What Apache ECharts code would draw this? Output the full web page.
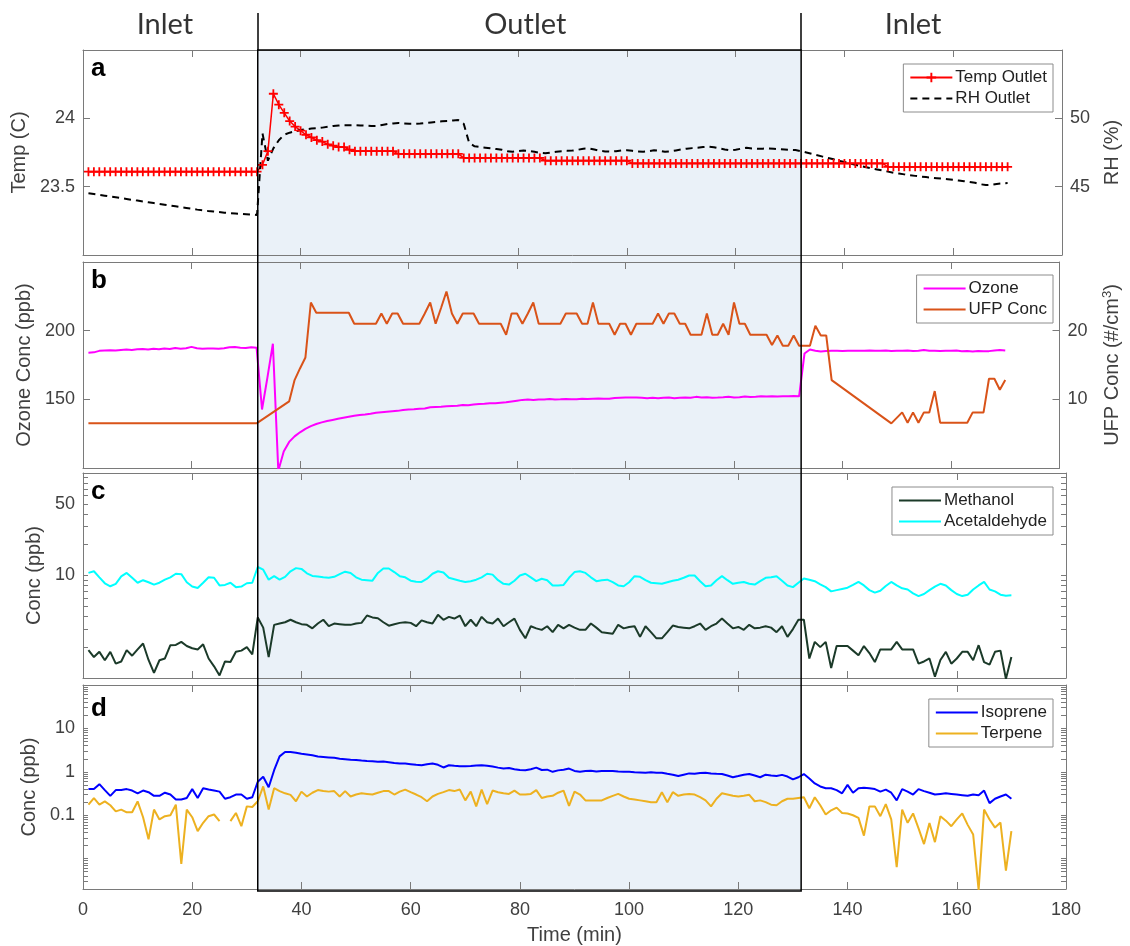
<!DOCTYPE html>
<html>
<head>
<meta charset="utf-8">
<title>Inlet / Outlet time series</title>
<script src="https://cdn.jsdelivr.net/npm/echarts@6/dist/echarts.min.js"></script>
<style>
  html, body { margin: 0; padding: 0; background: #fff; }
  #chart { width: 1130px; height: 946px; }
</style>
</head>
<body>
<div id="chart"></div>
<script>
// sample times (min), one reading per minute
const minutes = Array.from({ length: 170 }, (_, i) => i + 1)

// section labels above the chart and where the outlet period starts / ends
const sections = ['Inlet', 'Outlet', 'Inlet']
const sectionCenters = [15, 81, 152]
const outletStart = 32
const outletEnd = 131.5

// panel a
const tempOutlet = [
  23.61, 23.61, 23.61, 23.61, 23.61, 23.61, 23.61, 23.61, 23.61, 23.61,
  23.61, 23.61, 23.61, 23.61, 23.61, 23.61, 23.61, 23.61, 23.61, 23.61,
  23.61, 23.61, 23.61, 23.61, 23.61, 23.61, 23.61, 23.61, 23.61, 23.61,
  23.61, 23.61, 23.66, 23.76, 24.18, 24.10, 24.04, 23.98, 23.94, 23.91,
  23.88, 23.86, 23.84, 23.83, 23.81, 23.80, 23.79, 23.79, 23.77, 23.76,
  23.76, 23.76, 23.76, 23.76, 23.76, 23.76, 23.76, 23.74, 23.74, 23.74,
  23.74, 23.74, 23.74, 23.74, 23.74, 23.74, 23.74, 23.74, 23.74, 23.71,
  23.71, 23.71, 23.71, 23.71, 23.71, 23.71, 23.71, 23.71, 23.71, 23.71,
  23.71, 23.71, 23.71, 23.71, 23.69, 23.69, 23.69, 23.69, 23.69, 23.69,
  23.69, 23.69, 23.69, 23.69, 23.69, 23.69, 23.69, 23.69, 23.69, 23.69,
  23.67, 23.67, 23.67, 23.67, 23.67, 23.67, 23.67, 23.67, 23.67, 23.67,
  23.67, 23.67, 23.67, 23.67, 23.67, 23.67, 23.67, 23.67, 23.67, 23.67,
  23.67, 23.67, 23.67, 23.67, 23.67, 23.67, 23.67, 23.67, 23.67, 23.67,
  23.67, 23.67, 23.67, 23.67, 23.67, 23.67, 23.67, 23.67, 23.67, 23.67,
  23.67, 23.67, 23.67, 23.67, 23.67, 23.67, 23.67, 23.645, 23.645, 23.645,
  23.645, 23.645, 23.645, 23.645, 23.645, 23.645, 23.645, 23.645, 23.645, 23.645,
  23.645, 23.645, 23.645, 23.645, 23.645, 23.645, 23.645, 23.645, 23.645, 23.645
]
const rhOutlet = [
  44.52, 44.46, 44.40, 44.34, 44.28, 44.22, 44.16, 44.10, 44.04, 43.98,
  43.92, 43.86, 43.80, 43.74, 43.68, 43.62, 43.56, 43.50, 43.44, 43.38,
  43.32, 43.27, 43.22, 43.18, 43.14, 43.10, 43.07, 43.04, 43.01, 42.98,
  42.95, 42.93, 48.9, 46.9, 47.8, 48.4, 48.8, 48.95, 49.05, 49.14,
  49.2, 49.25, 49.27, 49.32, 49.38, 49.44, 49.47, 49.5, 49.5, 49.5,
  49.48, 49.46, 49.44, 49.45, 49.52, 49.58, 49.63, 49.66, 49.62, 49.6,
  49.6, 49.62, 49.66, 49.7, 49.74, 49.78, 49.8, 49.85, 49.87, 49.6,
  48.2, 47.95, 47.9, 47.85, 47.8, 47.75, 47.7, 47.6, 47.56, 47.6,
  47.65, 47.62, 47.55, 47.48, 47.44, 47.5, 47.56, 47.6, 47.62, 47.64,
  47.7, 47.78, 47.8, 47.72, 47.62, 47.58, 47.56, 47.6, 47.64, 47.66,
  47.62, 47.58, 47.56, 47.6, 47.66, 47.62, 47.55, 47.58, 47.65, 47.72,
  47.78, 47.82, 47.85, 47.9, 47.92, 47.88, 47.8, 47.72, 47.66, 47.7,
  47.78, 47.84, 47.8, 47.78, 47.78, 47.8, 47.78, 47.74, 47.72, 47.7,
  47.68, 47.6, 47.5, 47.4, 47.3, 47.2, 47.1, 47.0, 46.9, 46.8,
  46.7, 46.6, 46.5, 46.42, 46.34, 46.26, 46.18, 46.1, 46.02, 45.96,
  45.9, 45.84, 45.79, 45.74, 45.7, 45.66, 45.62, 45.58, 45.54, 45.5,
  45.45, 45.4, 45.34, 45.28, 45.18, 45.12, 45.14, 45.2, 45.24, 45.26
]

// panel b
const ozone = [
  183.9, 184.2, 185.3, 185.6, 185.8, 185.6, 186.0, 186.2, 186.0, 186.5,
  186.6, 186.3, 186.8, 186.4, 187.0, 186.6, 187.4, 186.9, 187.2, 188.2,
  187.2, 186.8, 187.0, 187.1, 186.8, 187.2, 187.9, 188.1, 187.6, 187.3,
  188.0, 187.5, 142.6, 166.0, 190.5, 98.0, 112.0, 119.0, 123.0, 126.0,
  128.5, 130.5, 132.0, 133.2, 134.2, 135.0, 135.8, 136.6, 137.3, 138.0,
  138.6, 139.0, 139.5, 140.2, 140.6, 141.0, 141.3, 141.6, 142.2, 142.6,
  142.7, 143.2, 143.3, 144.2, 144.4, 144.6, 145.0, 145.2, 145.3, 145.8,
  145.7, 146.2, 146.6, 146.7, 147.2, 147.1, 147.5, 147.8, 148.4, 149.0,
  149.6, 149.8, 149.6, 149.9, 149.8, 150.2, 149.9, 150.0, 150.3, 150.1,
  150.0, 150.4, 150.2, 150.4, 150.6, 150.5, 150.4, 150.9, 151.2, 151.4,
  151.3, 151.4, 151.2, 150.8, 151.1, 150.8, 151.2, 151.3, 150.8, 151.1,
  151.3, 151.1, 151.8, 151.4, 151.6, 151.2, 151.3, 151.5, 151.8, 151.4,
  151.6, 152.0, 151.7, 151.8, 152.2, 152.0, 152.2, 152.1, 152.3, 152.2,
  152.4, 152.2, 183.4, 186.3, 185.4, 184.8, 185.2, 185.3, 185.4, 185.2,
  185.3, 185.4, 185.4, 185.3, 185.5, 185.4, 185.3, 185.6, 185.2, 185.3,
  185.4, 185.5, 185.2, 185.3, 186.0, 185.3, 185.4, 185.2, 185.4, 185.3,
  185.5, 185.0, 185.2, 184.8, 185.2, 185.0, 185.1, 185.6, 186.0, 185.6
]
const ufpTime = [
  1, 32,
  38, 39, 40, 41, 42, 43, 44, 45, 46, 47,
  48, 49, 50, 51, 52, 53, 54, 55, 56, 57,
  58, 59, 60, 61, 62, 63, 64, 65, 66, 67,
  68, 69, 70, 71, 72, 73, 74, 75, 76, 77,
  78, 79, 80, 81, 82, 83, 84, 85, 86, 87,
  88, 89, 90, 91, 92, 93, 94, 95, 96, 97,
  98, 99, 100, 101, 102, 103, 104, 105, 106, 107,
  108, 109, 110, 111, 112, 113, 114, 115, 116, 117,
  118, 119, 120, 121, 122, 123, 124, 125, 126, 127,
  128, 129, 130, 131, 132, 133, 134, 135, 136, 137,
  138,
  149, 150, 151, 152, 153, 154, 155, 156, 157, 158,
  159, 160, 161, 162, 163, 164, 165, 166, 167, 168,
  169, 170
]
const ufpConc = [
  6.5, 6.5,
  9.7, 12.8, 14.5, 16.1, 24.1, 22.6, 22.6, 22.6, 22.6, 22.6,
  22.6, 22.6, 21.0, 21.0, 21.0, 21.0, 21.0, 22.5, 21.0, 22.5,
  22.5, 21.0, 21.0, 21.0, 21.0, 22.5, 24.1, 21.0, 23.3, 25.7,
  22.5, 21.0, 22.5, 22.5, 22.5, 21.0, 21.0, 21.0, 21.0, 21.0,
  19.4, 22.5, 22.5, 21.0, 22.5, 24.1, 21.0, 21.0, 21.0, 21.0,
  21.0, 22.5, 22.5, 22.5, 21.0, 21.0, 24.1, 21.0, 21.0, 21.0,
  19.4, 21.0, 21.0, 19.4, 21.0, 21.0, 21.0, 21.0, 22.5, 21.0,
  22.5, 22.5, 21.0, 21.0, 19.4, 19.4, 19.4, 22.5, 19.4, 19.4,
  21.0, 19.4, 24.1, 21.0, 21.0, 19.4, 19.4, 19.4, 19.4, 17.9,
  19.3, 17.8, 17.8, 19.3, 17.8, 17.8, 17.8, 20.7, 19.3, 19.3,
  12.8,
  6.5, 7.3, 8.1, 6.6, 8.1, 6.6, 8.1, 8.1, 11.2, 6.6,
  6.6, 6.6, 6.6, 6.6, 6.6, 8.1, 8.1, 8.1, 13.0, 13.0,
  11.4, 12.8
]

// panel c
const methanol = [
  1.87, 1.6, 1.8, 1.49, 1.8, 1.38, 1.45, 1.87, 1.65, 1.9,
  2.17, 1.5, 1.12, 1.49, 1.55, 2.09, 2.1, 2.25, 2.05, 1.95,
  1.9, 2.13, 1.55, 1.3, 1.06, 1.45, 1.43, 1.8, 1.85, 2.0,
  1.7, 3.9, 3.1, 1.6, 3.3, 3.4, 3.5, 3.7, 3.5, 3.35,
  3.3, 3.05, 3.4, 3.7, 3.2, 3.4, 3.35, 3.3, 3.3, 3.4,
  3.45, 4.07, 3.9, 3.83, 3.5, 3.24, 3.35, 3.45, 3.5, 3.45,
  3.2, 3.65, 3.5, 3.4, 4.13, 3.7, 3.95, 3.8, 4.07, 3.2,
  3.7, 3.2, 3.95, 3.5, 3.4, 3.8, 3.2, 3.5, 3.8, 2.95,
  2.44, 3.2, 3.05, 2.95, 3.2, 2.8, 3.3, 3.05, 3.3, 3.1,
  2.95, 2.95, 3.4, 3.1, 2.8, 2.75, 2.7, 3.3, 3.05, 3.15,
  3.2, 2.52, 3.2, 2.8, 2.44, 2.44, 2.8, 3.25, 3.15, 3.1,
  3.05, 3.2, 3.4, 2.95, 3.2, 3.4, 3.8, 3.4, 3.05, 3.15,
  2.95, 3.3, 3.05, 3.1, 3.2, 3.1, 2.8, 3.2, 2.52, 3.0,
  3.7, 3.7, 1.55, 2.25, 2.0, 2.25, 1.25, 2.05, 2.05, 2.05,
  1.85, 1.67, 2.05, 1.75, 1.43, 1.9, 1.9, 1.9, 2.25, 1.9,
  1.9, 1.9, 1.38, 1.45, 1.55, 1.03, 1.5, 1.8, 1.38, 1.55,
  1.8, 1.8, 1.49, 2.09, 1.43, 1.35, 1.8, 1.85, 0.98, 1.6
]
const acetaldehyde = [
  10.6, 11.0, 9.6, 8.4, 7.85, 8.3, 9.8, 10.6, 9.5, 8.5,
  9.0, 8.6, 8.15, 8.5, 9.1, 9.6, 10.4, 10.3, 8.6, 7.8,
  7.55, 8.5, 9.6, 9.5, 8.0, 8.1, 8.5, 7.7, 7.8, 8.4,
  8.5, 12.1, 11.4, 9.1, 9.85, 9.1, 9.7, 11.0, 11.8, 11.6,
  10.5, 9.9, 9.8, 9.6, 9.5, 9.7, 10.3, 10.9, 10.6, 9.6,
  9.1, 9.0, 8.9, 10.6, 11.7, 11.7, 10.8, 9.85, 9.6, 8.9,
  8.7, 8.65, 9.3, 10.4, 11.0, 10.7, 9.5, 9.2, 8.9, 8.65,
  8.8, 9.1, 9.6, 10.4, 10.2, 9.0, 8.3, 8.15, 8.9, 10.0,
  10.4, 9.6, 8.8, 9.3, 9.0, 8.0, 8.0, 8.1, 9.5, 10.8,
  11.0, 10.6, 9.6, 8.8, 9.0, 9.1, 8.6, 8.0, 7.85, 8.6,
  9.85, 9.7, 9.0, 8.5, 8.4, 8.3, 8.6, 8.9, 9.1, 9.5,
  10.0, 10.0, 8.8, 7.85, 8.0, 9.0, 9.85, 9.0, 8.3, 8.5,
  8.65, 8.3, 8.15, 8.8, 9.5, 9.6, 9.85, 8.9, 8.0, 7.7,
  8.5, 9.35, 9.1, 8.8, 8.2, 7.7, 7.0, 7.2, 7.4, 7.6,
  8.1, 8.65, 8.0, 7.2, 6.8, 7.1, 7.9, 8.65, 8.0, 7.5,
  7.3, 6.7, 6.3, 6.6, 7.2, 7.8, 8.3, 8.0, 7.2, 6.6,
  6.3, 6.5, 7.3, 8.0, 8.65, 7.3, 7.0, 6.5, 6.35, 6.4
]

// panel d
const isoprene = [
  0.40, 0.40, 0.52, 0.38, 0.28, 0.38, 0.38, 0.40, 0.37, 0.32,
  0.37, 0.34, 0.28, 0.28, 0.33, 0.30, 0.23, 0.23, 0.25, 0.40,
  0.25, 0.42, 0.39, 0.37, 0.35, 0.24, 0.26, 0.30, 0.30, 0.24,
  0.26, 0.59, 0.77, 0.44, 1.09, 2.27, 2.85, 2.85, 2.75, 2.6,
  2.52, 2.4, 2.25, 2.2, 2.15, 2.1, 2.0, 1.95, 1.9, 1.88,
  1.82, 1.78, 1.75, 1.7, 1.72, 1.66, 1.6, 1.55, 1.55, 1.5,
  1.45, 1.42, 1.5, 1.55, 1.45, 1.26, 1.42, 1.38, 1.35, 1.35,
  1.36, 1.4, 1.42, 1.38, 1.32, 1.25, 1.2, 1.22, 1.15, 1.1,
  1.09, 1.15, 1.25, 1.1, 1.12, 1.0, 1.08, 1.12, 1.19, 1.05,
  1.0, 1.04, 1.06, 1.02, 1.04, 1.05, 1.05, 1.02, 1.0, 1.0,
  0.98, 0.97, 0.95, 0.98, 0.95, 0.95, 0.9, 0.86, 0.8, 0.86,
  0.92, 0.9, 0.94, 0.95, 0.92, 0.9, 0.89, 0.82, 0.75, 0.8,
  0.86, 0.89, 0.82, 0.75, 0.86, 0.82, 0.8, 0.85, 0.78, 0.67,
  0.75, 0.89, 0.7, 0.54, 0.46, 0.42, 0.42, 0.38, 0.32, 0.5,
  0.33, 0.42, 0.43, 0.42, 0.4, 0.35, 0.39, 0.33, 0.22, 0.40,
  0.35, 0.30, 0.40, 0.36, 0.33, 0.30, 0.31, 0.32, 0.31, 0.30,
  0.29, 0.28, 0.3, 0.29, 0.37, 0.19, 0.24, 0.27, 0.3, 0.24
]
const terpene = [
  0.175, 0.248, 0.175, 0.208, 0.17, 0.123, 0.135, 0.117, 0.117, 0.208,
  0.09, 0.028, 0.135, 0.08, 0.095, 0.1, 0.175, 0.0076, 0.135, 0.09,
  0.043, 0.067, 0.095, 0.104, 0.073, null, 0.073, 0.113, 0.056, 0.16,
  0.155, 0.21, 0.46, 0.135, 0.42, 0.36, 0.32, 0.295, 0.21, 0.35,
  0.27, 0.33, 0.38, 0.36, 0.35, 0.36, 0.27, 0.36, 0.27, 0.3,
  0.32, 0.31, 0.3, 0.33, 0.36, 0.36, 0.3, 0.35, 0.39, 0.34,
  0.3, 0.26, 0.21, 0.27, 0.31, 0.34, 0.38, 0.36, 0.39, 0.22,
  0.35, 0.16, 0.39, 0.18, 0.37, 0.34, 0.32, 0.31, 0.37, 0.3,
  0.3, 0.31, 0.38, 0.25, 0.27, 0.28, 0.33, 0.37, 0.165, 0.35,
  0.3, 0.22, 0.22, 0.22, 0.22, 0.25, 0.28, 0.31, 0.27, 0.24,
  0.23, 0.22, 0.21, 0.2, 0.2, 0.34, 0.2, 0.34, 0.28, 0.3,
  0.31, 0.3, 0.26, 0.22, 0.16, 0.24, 0.32, 0.3, 0.28, 0.27,
  0.28, 0.295, 0.21, 0.22, 0.2, 0.175, 0.17, 0.21, 0.24, 0.24,
  0.25, 0.26, 0.145, 0.26, 0.17, 0.104, 0.13, 0.15, 0.113, 0.11,
  0.1, 0.087, 0.034, 0.16, 0.16, 0.095, 0.18, 0.08, 0.0064, 0.135,
  0.067, 0.11, 0.05, 0.0217, 0.066, 0.024, 0.095, 0.075, 0.056, 0.08,
  0.11, 0.06, 0.036, 0.0019, 0.135, 0.08, 0.052, 0.068, 0.0053, 0.043
]

// tick marks
const tempTicks = [23.5, 24]
const rhTicks = [45, 50]
const ozoneTicks = [150, 200]
const ufpTicks = [10, 20]
const cLabels = [10, 50]
const cTicks = [2, 3, 4, 5, 6, 7, 8, 9, 10, 20, 30, 40, 50, 60, 70, 80, 90]
const dLabels = [0.1, 1, 10]
const dTicks = [
  0.002, 0.003, 0.004, 0.005, 0.006, 0.007, 0.008, 0.009,
  0.01, 0.02, 0.03, 0.04, 0.05, 0.06, 0.07, 0.08, 0.09,
  0.1, 0.2, 0.3, 0.4, 0.5, 0.6, 0.7, 0.8, 0.9,
  1, 2, 3, 4, 5, 6, 7, 8, 9,
  10, 20, 30, 40, 50, 60, 70, 80, 90
]

const AXIS = '#7a7a7a'
const LABEL = '#404040'
const FONT = '"Liberation Sans", Arial, sans-serif'
const PLUS = 'path://M4,0H6V4H10V6H6V10H4V6H0V4H4Z'

function pairs(xs, ys) {
  return xs.map((x, i) => [x, ys[i]])
}

function timeAxis(gridIndex, position, showLabels) {
  return {
    type: 'value',
    gridIndex: gridIndex,
    position: position,
    min: 0,
    max: 180,
    interval: 20,
    name: showLabels ? 'Time (min)' : '',
    nameLocation: 'middle',
    nameGap: 36,
    nameTextStyle: { fontSize: 20, color: LABEL, fontFamily: FONT },
    axisLine: { show: true, onZero: false, lineStyle: { color: AXIS, width: 1 } },
    axisTick: { show: true, inside: true, length: 7, lineStyle: { color: AXIS } },
    axisLabel: { show: showLabels, color: LABEL, fontSize: 18, fontFamily: FONT, margin: 12 },
    splitLine: { show: false }
  }
}

function hiddenAxis(gridIndex, min, max) {
  return { type: 'value', gridIndex: gridIndex, min: min, max: max, show: false }
}

function sideAxis(gridIndex, position, opts) {
  return {
    type: opts.type || 'value',
    logBase: 10,
    gridIndex: gridIndex,
    position: position,
    min: opts.min,
    max: opts.max,
    name: opts.name || '',
    nameLocation: 'middle',
    nameRotate: 90,
    nameGap: opts.nameGap || 40,
    nameTextStyle: {
      fontSize: 20,
      color: LABEL,
      fontFamily: FONT,
      rich: { sup: { fontSize: 13, color: LABEL, fontFamily: FONT, verticalAlign: 'top', padding: [0, 0, 10, 0] } }
    },
    axisLine: { show: true, onZero: false, lineStyle: { color: AXIS, width: 1 } },
    axisTick: { show: true, inside: true, length: opts.tickLength || 7, customValues: opts.ticks, lineStyle: { color: AXIS } },
    axisLabel: {
      show: !!opts.labels,
      customValues: opts.labels || opts.ticks,
      color: LABEL,
      fontSize: 18,
      fontFamily: FONT,
      margin: 8
    },
    splitLine: { show: false },
    minorTick: { show: false }
  }
}

// legend entries: only the temperature line keeps its marker in the key
function legendFor(names, top) {
  return {
    data: names.map(n => n === 'Temp Outlet' ? { name: n } : { name: n, itemStyle: { opacity: 0 } }),
    orient: 'vertical',
    right: 77,
    top: top,
    backgroundColor: '#fff',
    borderColor: '#8c8c8c',
    borderWidth: 1,
    borderRadius: 0,
    padding: [5, 6, 5, 6],
    itemGap: 4,
    itemWidth: 42,
    itemHeight: 12,
    selectedMode: false,
    textStyle: { fontSize: 17, color: '#222', fontFamily: FONT, padding: [0, 0, 0, -2] }
  }
}

function letter(text, top) {
  return {
    text: text,
    left: 91,
    top: top,
    padding: 0,
    textStyle: { fontSize: 26, fontWeight: 'bold', color: '#000', fontFamily: FONT }
  }
}

const chart = echarts.init(document.getElementById('chart'), null, { renderer: 'canvas' })

chart.setOption({
  animation: false,
  backgroundColor: '#fff',
  title: [letter('a', 56), letter('b', 268), letter('c', 479), letter('d', 696)],
  legend: [
    legendFor(['Temp Outlet', 'RH Outlet'], 64),
    legendFor(['Ozone', 'UFP Conc'], 275),
    legendFor(['Methanol', 'Acetaldehyde'], 487),
    legendFor(['Isoprene', 'Terpene'], 699)
  ],
  grid: [
    { left: 83, right: 64, top: 13, height: 37 },
    { left: 83, right: 64, top: 50, height: 205 },
    { left: 83, right: 64, top: 262, height: 206 },
    { left: 83, right: 64, top: 473, height: 205 },
    { left: 83, right: 64, top: 685, height: 206 },
    { left: 83, right: 64, top: 50, height: 841 }
  ],
  xAxis: [
    hiddenAxis(0, 0, 180),
    hiddenAxis(5, 0, 180),
    timeAxis(1, 'bottom', false),
    timeAxis(1, 'top', false),
    timeAxis(2, 'bottom', false),
    timeAxis(2, 'top', false),
    timeAxis(3, 'bottom', false),
    timeAxis(3, 'top', false),
    timeAxis(4, 'bottom', true),
    timeAxis(4, 'top', false)
  ],
  yAxis: [
    hiddenAxis(0, 0, 1),
    hiddenAxis(5, 0, 1),
    sideAxis(1, 'left', { min: 23, max: 24.5, ticks: tempTicks, labels: tempTicks, name: 'Temp (C)', nameGap: 52 }),
    sideAxis(1, 'right', { min: 40, max: 55, ticks: rhTicks, labels: rhTicks, name: 'RH (%)', nameGap: 40 }),
    sideAxis(2, 'left', { min: 100, max: 250, ticks: ozoneTicks, labels: ozoneTicks, name: 'Ozone Conc (ppb)', nameGap: 45 }),
    sideAxis(2, 'right', { min: 0, max: 30, ticks: ufpTicks, labels: ufpTicks, name: 'UFP Conc (#/cm{sup|3})', nameGap: 41 }),
    sideAxis(3, 'left', { type: 'log', min: 1, max: 100, ticks: cTicks, labels: cLabels, tickLength: 5, name: 'Conc (ppb)', nameGap: 33 }),
    sideAxis(3, 'right', { type: 'log', min: 1, max: 100, ticks: cTicks, tickLength: 5 }),
    sideAxis(4, 'left', { type: 'log', min: 0.002, max: 100, ticks: dTicks, labels: dLabels, tickLength: 5, name: 'Conc (ppb)', nameGap: 38 }),
    sideAxis(4, 'right', { type: 'log', min: 0.002, max: 100, ticks: dTicks, tickLength: 5 })
  ],
  series: [
    {
      // shaded outlet period behind every panel
      type: 'line',
      xAxisIndex: 1,
      yAxisIndex: 1,
      data: [],
      silent: true,
      z: -2,
      markArea: {
        silent: true,
        z: -2,
        itemStyle: { color: '#eaf1f8' },
        data: [[{ xAxis: outletStart }, { xAxis: outletEnd }]]
      }
    },
    {
      // black frame of the outlet period
      type: 'line',
      xAxisIndex: 1,
      yAxisIndex: 1,
      data: [],
      silent: true,
      z: 20,
      markArea: {
        silent: true,
        z: 20,
        itemStyle: { color: 'rgba(0,0,0,0)', borderColor: '#000', borderWidth: 1.5 },
        data: [[{ xAxis: outletStart }, { xAxis: outletEnd }]]
      }
    },
    {
      type: 'line',
      xAxisIndex: 0,
      yAxisIndex: 0,
      data: [],
      silent: true,
      markLine: {
        silent: true,
        symbol: 'none',
        label: { show: false },
        lineStyle: { color: '#000', width: 1.5, type: 'solid' },
        data: [{ xAxis: outletStart }, { xAxis: outletEnd }]
      }
    },
    {
      type: 'scatter',
      xAxisIndex: 0,
      yAxisIndex: 0,
      silent: true,
      symbolSize: 1,
      itemStyle: { color: 'rgba(0,0,0,0)' },
      label: {
        show: true,
        position: 'inside',
        formatter: '{b}',
        fontSize: 29,
        color: '#000',
        fontFamily: 'Lato, "Open Sans", sans-serif'
      },
      data: sections.map((s, i) => ({ name: s, value: [sectionCenters[i], 0.68] }))
    },
    {
      name: 'Temp Outlet',
      type: 'line',
      xAxisIndex: 2,
      yAxisIndex: 2,
      data: pairs(minutes, tempOutlet),
      symbol: PLUS,
      symbolSize: 9,
      itemStyle: { color: '#ff0000' },
      lineStyle: { color: '#ff0000', width: 1.5 }
    },
    {
      name: 'RH Outlet',
      type: 'line',
      xAxisIndex: 2,
      yAxisIndex: 3,
      data: pairs(minutes, rhOutlet),
      symbol: 'none',
      itemStyle: { color: '#000' },
      lineStyle: { color: '#000', width: 2, type: [7, 5] }
    },
    {
      name: 'Ozone',
      type: 'line',
      xAxisIndex: 4,
      yAxisIndex: 4,
      data: pairs(minutes, ozone),
      symbol: 'none',
      itemStyle: { color: '#ff00ff' },
      lineStyle: { color: '#ff00ff', width: 2 }
    },
    {
      name: 'UFP Conc',
      type: 'line',
      xAxisIndex: 4,
      yAxisIndex: 5,
      data: pairs(ufpTime, ufpConc),
      symbol: 'none',
      itemStyle: { color: '#d95319' },
      lineStyle: { color: '#d95319', width: 2 }
    },
    {
      name: 'Methanol',
      type: 'line',
      xAxisIndex: 6,
      yAxisIndex: 6,
      data: pairs(minutes, methanol),
      symbol: 'none',
      itemStyle: { color: '#1b3a29' },
      lineStyle: { color: '#1b3a29', width: 2 }
    },
    {
      name: 'Acetaldehyde',
      type: 'line',
      xAxisIndex: 6,
      yAxisIndex: 6,
      data: pairs(minutes, acetaldehyde),
      symbol: 'none',
      itemStyle: { color: '#00ffff' },
      lineStyle: { color: '#00ffff', width: 2 }
    },
    {
      name: 'Isoprene',
      type: 'line',
      xAxisIndex: 8,
      yAxisIndex: 8,
      data: pairs(minutes, isoprene),
      symbol: 'none',
      itemStyle: { color: '#0000ff' },
      lineStyle: { color: '#0000ff', width: 2 }
    },
    {
      name: 'Terpene',
      type: 'line',
      xAxisIndex: 8,
      yAxisIndex: 8,
      data: pairs(minutes, terpene),
      connectNulls: false,
      symbol: 'none',
      itemStyle: { color: '#edb120' },
      lineStyle: { color: '#edb120', width: 2 }
    }
  ]
})
</script>
</body>
</html>
